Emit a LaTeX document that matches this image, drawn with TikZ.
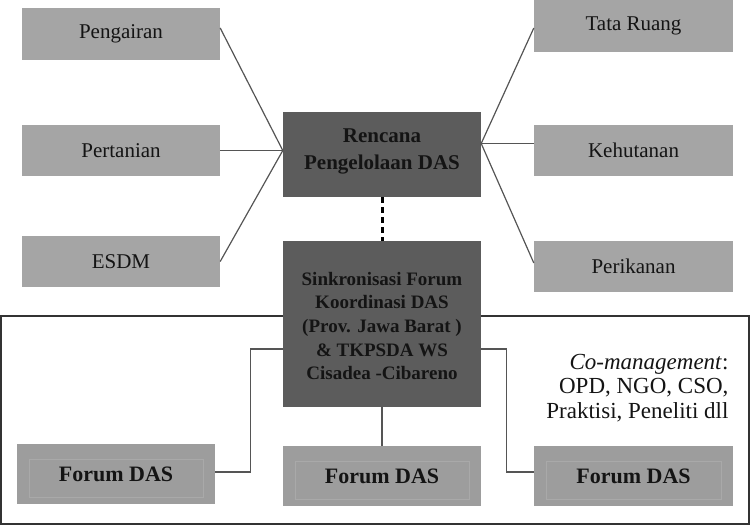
\documentclass[tikz,border=0pt]{standalone}
\usepackage{fontspec}
\setmainfont{Liberation Serif}
\usetikzlibrary{calc}
\definecolor{boxgray}{HTML}{A5A5A5}
\definecolor{darkbox}{HTML}{5C5C5C}
\definecolor{forumgray}{HTML}{9D9D9D}
\definecolor{foruminner}{HTML}{A9A9A9}
\definecolor{linegray}{HTML}{555555}
\definecolor{txt}{HTML}{141414}
\tikzset{
  lightbox/.style={fill=boxgray, draw=none, minimum width=198pt, minimum height=52pt, inner sep=0pt, text=txt, font=\fontsize{21}{25}\selectfont},
  darkboxs/.style={fill=darkbox, draw=none, minimum width=198pt, inner sep=0pt, text=txt, align=center},
  forumbox/.style={fill=forumgray, draw=none, minimum width=198pt, minimum height=60pt, inner sep=0pt, text=txt, font=\fontsize{22}{26}\selectfont\bfseries},
  conn/.style={draw=linegray, line width=1.2pt},
  innerrect/.style={draw=foruminner, line width=1pt},
}
\begin{document}
\begin{tikzpicture}[x=1pt,y=-1pt]
\useasboundingbox (0,0) rectangle (754,527);
% outer frame
\draw[draw=black!80, line width=2pt] (1,316) rectangle (749,524);
% boxes
\node[lightbox] (peng) at (121,34) {Pengairan};
\node[lightbox, minimum height=51pt] (pert) at (121,150.5) {Pertanian};
\node[lightbox, minimum height=51pt] (esdm) at (121,261.5) {ESDM};
\node[lightbox, minimum width=199pt] (tata) at (633.5,26) {Tata Ruang};
\node[lightbox, minimum width=199pt, minimum height=51pt] (kehu) at (633.5,150.5) {Kehutanan};
\node[lightbox, minimum width=199pt, minimum height=51pt] (peri) at (633.5,266.5) {Perikanan};
\node[darkboxs, minimum height=85pt] (renc) at (382,154.5) {};
\node[text=txt, align=center, font=\fontsize{21}{27}\selectfont\bfseries] (rencT) at (382,151) {Rencana\\Pengelolaan DAS};
\node[darkboxs, minimum height=166pt] (sink) at (382,324) {};
\node[text=txt, align=center, font=\fontsize{19}{23.7}\selectfont\bfseries] (sinkT) at (382,326) {Sinkronisasi Forum\\Koordinasi DAS\\(Prov. Jawa Barat )\\\& TKPSDA WS\\Cisadea -Cibareno};
\node[forumbox] (f1) at (116,474) {Forum DAS};
\node[forumbox] (f2) at (382,476) {Forum DAS};
\node[forumbox, minimum width=199pt] (f3) at (633.5,476) {Forum DAS};
\foreach \f in {f1,f2,f3}{
  \draw[innerrect] ($(\f.north west)+(13,16)$) rectangle ($(\f.south east)+(-12,-7)$);
}
% connectors
\draw[conn] ([yshift=6pt]peng.east) -- ([yshift=4pt]renc.west);
\draw[conn] (pert.east) -- ([yshift=4pt]renc.west);
\draw[conn] (esdm.east) -- ([yshift=4pt]renc.west);
\draw[conn] ([yshift=11pt]renc.east) -- ([yshift=-2pt]tata.west);
\draw[conn] ([yshift=11pt]renc.east) -- ([yshift=7pt]kehu.west);
\draw[conn] ([yshift=11pt]renc.east) -- ([yshift=3.5pt]peri.west);
\draw[black, line width=3pt, dash pattern=on 6pt off 4pt] (renc.south) -- (sink.north);
\draw[conn] ([yshift=-25pt]sink.west) -- ++(-32,0) |- ([yshift=2pt]f1.east);
\draw[conn] (sink.south) -- (f2.north);
\draw[conn] ([yshift=-25pt]sink.east) -- ++(25,0) |- ([yshift=4pt]f3.west);
% co-management
\node[anchor=east, align=right, text=txt, font=\fontsize{23}{24.5}\selectfont] (coman) at (732,388) {\textit{Co-management}:\\OPD, NGO, CSO,\\Praktisi, Peneliti dll};
\end{tikzpicture}
\end{document}
